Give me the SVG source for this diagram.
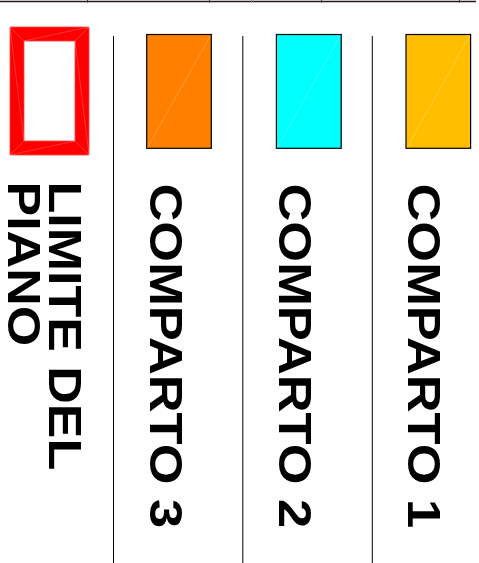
<svg xmlns="http://www.w3.org/2000/svg" width="479" height="563" viewBox="0 0 479 563">
<style>
.sep{stroke:#000;stroke-width:1;fill:none}
.sw{stroke:#000;stroke-width:1.2}
.diag{stroke:#fff;stroke-opacity:0.3;stroke-width:0.7;fill:none}
.lbl{font-family:"Liberation Sans",Arial,sans-serif;font-weight:bold;font-size:46px;fill:#000}
</style>
<rect width="479" height="563" fill="#fff"/>
<g id="top-border">
<line x1="0" y1="1.5" x2="476" y2="1.5" stroke="#2a1616" stroke-width="1.6"/>
<g stroke="#333" stroke-width="1">
<line x1="87.5" y1="0" x2="87.5" y2="2.5"/>
<line x1="209.5" y1="0" x2="209.5" y2="2.5"/>
<line x1="251.5" y1="0" x2="251.5" y2="2.5" stroke="#888"/>
<line x1="321.5" y1="0" x2="321.5" y2="2.5"/>
<line x1="459.5" y1="0" x2="459.5" y2="2.5"/>
</g>
</g>
<g id="separators">
<line class="sep" x1="113.5" y1="36" x2="113.5" y2="563"/>
<line class="sep" x1="242.8" y1="36" x2="242.8" y2="563"/>
<line class="sep" x1="372.3" y1="36" x2="372.3" y2="563"/>
</g>
<g id="limite-del-piano">
<path d="M10,27 H89 V155 H10 Z M24,41 V141 H75 V41 Z" fill="#ff0000" fill-rule="evenodd" stroke="#ff4040" stroke-width="0.8"/>
<path class="diag" d="M10,27 L24,41 M89,27 L75,41 M89,155 L75,141 M10,155 L24,141 M24,41 L89,27 M10,27 L24,141 M75,41 L89,155 M10,155 L75,141"/>
<text class="lbl" transform="translate(49,181.5) rotate(90) scale(1.13,1)">LIMITE DEL</text>
<text class="lbl" transform="translate(7.5,181.5) rotate(90) scale(1.13,1)">PIANO</text>
</g>
<g id="comparto-3">
<rect class="sw" x="146.7" y="34.5" width="64.6" height="113.8" fill="#ff8000"/>
<line class="diag" x1="147.5" y1="147.5" x2="210.5" y2="35.5"/>
<text class="lbl" transform="translate(149.5,183.5) rotate(90) scale(1.14,1)">COMPARTO 3</text>
</g>
<g id="comparto-2">
<rect class="sw" x="276.4" y="34.5" width="64.8" height="113.8" fill="#00ffff"/>
<line class="diag" x1="277.3" y1="147.5" x2="340.3" y2="35.5"/>
<text class="lbl" transform="translate(278.5,183.5) rotate(90) scale(1.14,1)">COMPARTO 2</text>
</g>
<g id="comparto-1">
<rect class="sw" x="406" y="34.5" width="64.6" height="113.8" fill="#ffbf00"/>
<line class="diag" x1="407" y1="147.5" x2="469.8" y2="35.5"/>
<text class="lbl" transform="translate(408,183.5) rotate(90) scale(1.14,1)">COMPARTO 1</text>
</g>
</svg>
